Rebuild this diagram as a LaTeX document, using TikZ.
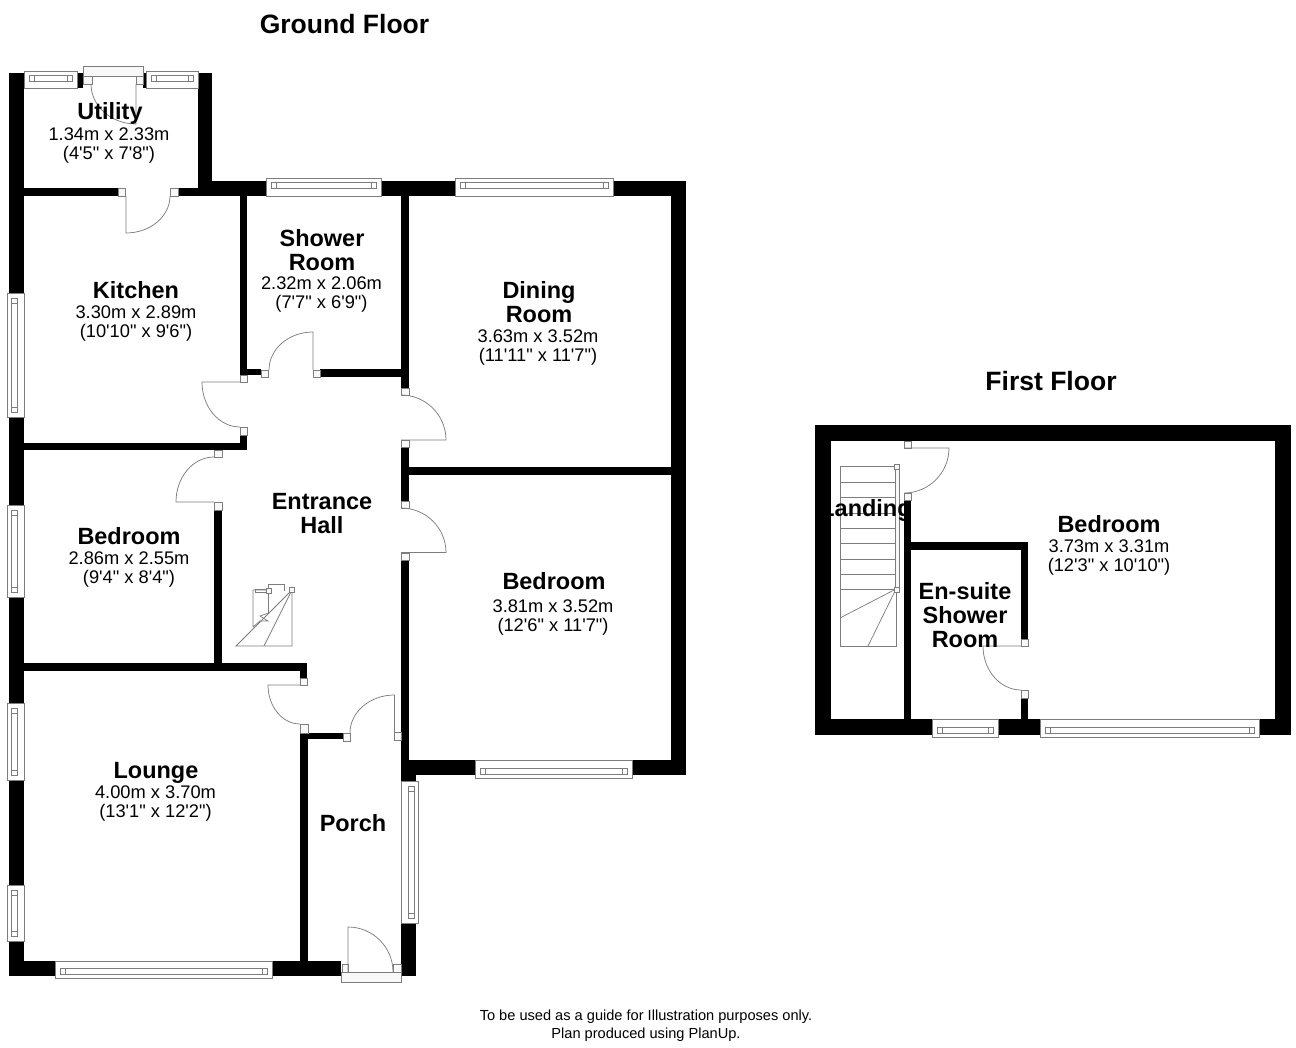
\documentclass[tikz,border=0pt]{standalone}
\usepackage{fontspec}
\usetikzlibrary{calc}
\newfontfamily\planfont{Liberation Sans}
\definecolor{thinline}{RGB}{125,125,125}
\definecolor{jambfill}{RGB}{248,248,248}
\newcommand{\planleaf}[6]{\draw[thinl] (#1,#2) -- (#3,#4) .. controls ($(#3,#4)+0.5523*(#5,#6)-0.5523*(#1,#2)$) and ($(#5,#6)+0.5523*(#3,#4)-0.5523*(#1,#2)$) .. (#5,#6);}
% windows: outer rectangle plus a strip near the outer face
\newcommand{\winH}[4]{\draw[thinl,fill=white] (#1,#3) rectangle (#2,#4);}
\newcommand{\stripH}[3]{\draw[thinl,fill=white] (#1+5,#3) rectangle (#2-5,#3+6);
  \draw[thinl] (#1+10,#3) -- (#1+10,#3+6) (#2-10,#3) -- (#2-10,#3+6);}
\newcommand{\winV}[4]{\draw[thinl,fill=white] (#1,#3) rectangle (#2,#4);}
\newcommand{\stripV}[3]{\draw[thinl,fill=white] (#1,#2+5) rectangle (#1+6,#3-5);
  \draw[thinl] (#1,#2+10) -- (#1+6,#2+10) (#1,#3-10) -- (#1+6,#3-10);}
\tikzset{
  x=0.75pt,y=-0.75pt,
  thinl/.style={draw=thinline,line width=0.55pt},
  jamb/.style={draw=thinline,fill=jambfill,line width=0.55pt},
  wall/.style={fill=black},
  title/.style={inner sep=0pt,font=\planfont\fontsize{19.9}{22}\selectfont\bfseries},
  roomname/.style={inner sep=0pt,align=center,font=\planfont\fontsize{17.6}{18}\selectfont\bfseries},
  roomsize/.style={inner sep=0pt,align=center,font=\planfont\fontsize{13.7}{14.25}\selectfont},
  footnote/.style={inner sep=0pt,align=center,font=\planfont\fontsize{10.95}{13.5}\selectfont},
}
\begin{document}
\begin{tikzpicture}
\fill[white] (0,0) rectangle (1296,1048);
\useasboundingbox (0,0) rectangle (1296,1048);

% ---------- ground floor walls ----------
\foreach \a/\b/\c/\d in {
  9/73/24/976,      % left outer
  24/73/77/75,
  77/73/83/88, 143/73/146/88,
  198/73/212/196,   % utility right
  24/188/118/196, 178/188/198/196,
  212/181/686/196,  % rear
  671/181/686/775,  % right outer
  401/760/686/775,  % bedroom bottom
  240/196/247/375, 247/369/261/375,
  320/369/401/377,
  401/196/409/388,
  401/447/409/501,
  409/467/671/475,
  401/560/409/760,
  401/760/416/781,
  401/923/416/976,
  24/443/247/450, 240/435/247/450,
  214/510/222/663,
  24/663/307/671, 300/663/307/678,
  301/733/343/739, 300/733/308/961,
  9/961/341/976
} { \fill[wall] (\a,\b) rectangle (\c,\d); }

% ---------- first floor walls ----------
\foreach \a/\b/\c/\d in {
  815/425/1291/441,
  815/425/831/735,
  1275/425/1291/735,
  815/719/1291/735,
  904/500/911/719,
  904/542/1028/550,
  1021/542/1028/639,
  1021/698/1028/719
} { \fill[wall] (\a,\b) rectangle (\c,\d); }

% ---------- door jambs ----------
\foreach \a/\b/\c/\d in {
  83/76/92/84, 136/76/143/84,
  118/188/125/196, 170/188/178/196,
  261/370/268/377, 313/370/320/377,
  240/375/247/382, 240/427/247/435,
  401/388/409/395, 401/440/409/447,
  401/501/409/508, 401/553/409/560,
  214/450/222/457, 214/502/222/510,
  300/678/307/685, 300/724/308/733,
  343/733/350/741, 394/732/401/740,
  342/964/348/972, 393/964/401/972,
  904/441/911/448, 904/493/911/500,
  1021/639/1028/646, 1021/690/1028/698
} { \draw[jamb] (\a,\b) rectangle (\c,\d); }

% ---------- door sills ----------
\draw[jamb] (83,66) rectangle (143,76);
\draw[jamb] (341,972) rectangle (401,982);

% ---------- door leaves ----------
\planleaf{136}{84}{136}{124}{91}{84}
\planleaf{126}{196}{126}{233}{170}{196}
\planleaf{313}{370}{313}{332}{269}{370}
\planleaf{240}{382}{202}{382}{240}{427}
\planleaf{401}{440}{446}{440}{401}{395}
\planleaf{401}{552.5}{446}{552.5}{401}{508}
\planleaf{214}{502}{176}{502}{214}{457}
\planleaf{300}{685}{268}{685}{300}{724}
\planleaf{394.5}{733}{394.5}{695}{350}{733}
\planleaf{348}{972}{348}{927}{393}{972}
\planleaf{904}{448}{949}{448}{904}{493}
\planleaf{1021}{646}{983}{646}{1021}{690}

% ---------- windows ----------
\winH{24}{77}{71}{88}\stripH{24}{77}{75}
\winH{146}{198}{71}{88}\stripH{146}{198}{75}
\winH{266}{381}{178}{196}\stripH{266}{381}{182}
\winH{455}{613}{178}{196}\stripH{455}{613}{182}
\winH{475}{632}{760}{778}\stripH{475}{632}{768}
\winH{55}{272}{961}{978}\stripH{55}{272}{968}
\winH{932}{998}{719}{737}\stripH{932}{998}{727}
\winH{1040}{1259}{719}{737}\stripH{1040}{1259}{727}
\winV{7}{24}{293}{417}\stripV{11}{293}{417}
\winV{7}{24}{505}{597}\stripV{11}{505}{597}
\winV{7}{24}{703}{780}\stripV{11}{703}{780}
\winV{7}{24}{885}{941}\stripV{11}{885}{941}
\winV{401}{418}{781}{923}\stripV{408}{781}{923}

% ---------- ground floor stairs ----------
\draw[thinl] (253,627) -- (253,590) -- (268.5,590) -- (268.5,613)
  -- (260,616) -- (268,621) -- (260,621) -- (253,627);
\draw[thinl] (268.5,590) -- (268.5,584) -- (284,584) -- (284,591);
\draw[thinl] (292,590) -- (292,646) -- (236,646) -- (292,590);
\draw[thinl] (264,646) -- (292,590);
\draw[thinl] (255,589) rectangle (268,592);
\draw[jamb] (266,588) rectangle (271,593);
\draw[jamb] (289.5,587.5) rectangle (294.5,592.5);

% ---------- first floor stairs ----------
\draw[thinl] (840,466) rectangle (896,646);
\foreach \y in {482,497,513,528,543,559,574,589} { \draw[thinl] (840,\y) -- (896,\y); }
\draw[thinl] (896,589) -- (840,618);
\draw[thinl] (896,589) -- (868,646);
\draw[jamb] (895,466) rectangle (899,589);
\draw[jamb] (894,464) rectangle (899,469);
\draw[jamb] (894,587) rectangle (899,592);

% ---------- text ----------
\node[title] (groundfloor) at (344.5,24) {Ground Floor};
\node[title] (firstfloor) at (1051,381) {First Floor};

\node[roomname] (landing) at (866,510.5) {Landing};
\node[roomname] (utility) at (110,113.5) {Utility};
\node[roomsize] (utilitysize) at (109,145.5) {1.34m x 2.33m\\(4'5" x 7'8")};
\node[roomname] (kitchen) at (136,290) {Kitchen};
\node[roomsize] (kitchensize) at (136,324) {3.30m x 2.89m\\(10'10" x 9'6")};
\node[roomname] (shower) at (322,250.5) {Shower\\Room};
\node[roomsize] (showersize) at (321.5,295) {2.32m x 2.06m\\(7'7" x 6'9")};
\node[roomname] (dining) at (539,302) {Dining\\Room};
\node[roomsize] (diningsize) at (538,348) {3.63m x 3.52m\\(11'11" x 11'7")};
\node[roomname] (hall) at (322,514) {Entrance\\Hall};
\node[roomname] (bedrooma) at (129,536) {Bedroom};
\node[roomsize] (bedroomasize) at (129,569.5) {2.86m x 2.55m\\(9'4" x 8'4")};
\node[roomname] (bedroomb) at (554,581) {Bedroom};
\node[roomsize] (bedroombsize) at (553,618) {3.81m x 3.52m\\(12'6" x 11'7")};
\node[roomname] (lounge) at (156,772.5) {Lounge};
\node[roomsize] (loungesize) at (155.5,804) {4.00m x 3.70m\\(13'1" x 12'2")};
\node[roomname] (porch) at (353,823) {Porch};
\node[roomname] (bedroomc) at (1109,524) {Bedroom};
\node[roomsize] (bedroomcsize) at (1109,557.5) {3.73m x 3.31m\\(12'3" x 10'10")};
\node[roomname] (ensuite) at (965,615) {En-suite\\Shower\\Room};
\node[footnote] (note) at (646,1026) {To be used as a guide for Illustration purposes only.\\Plan produced using PlanUp.};
\end{tikzpicture}
\end{document}
